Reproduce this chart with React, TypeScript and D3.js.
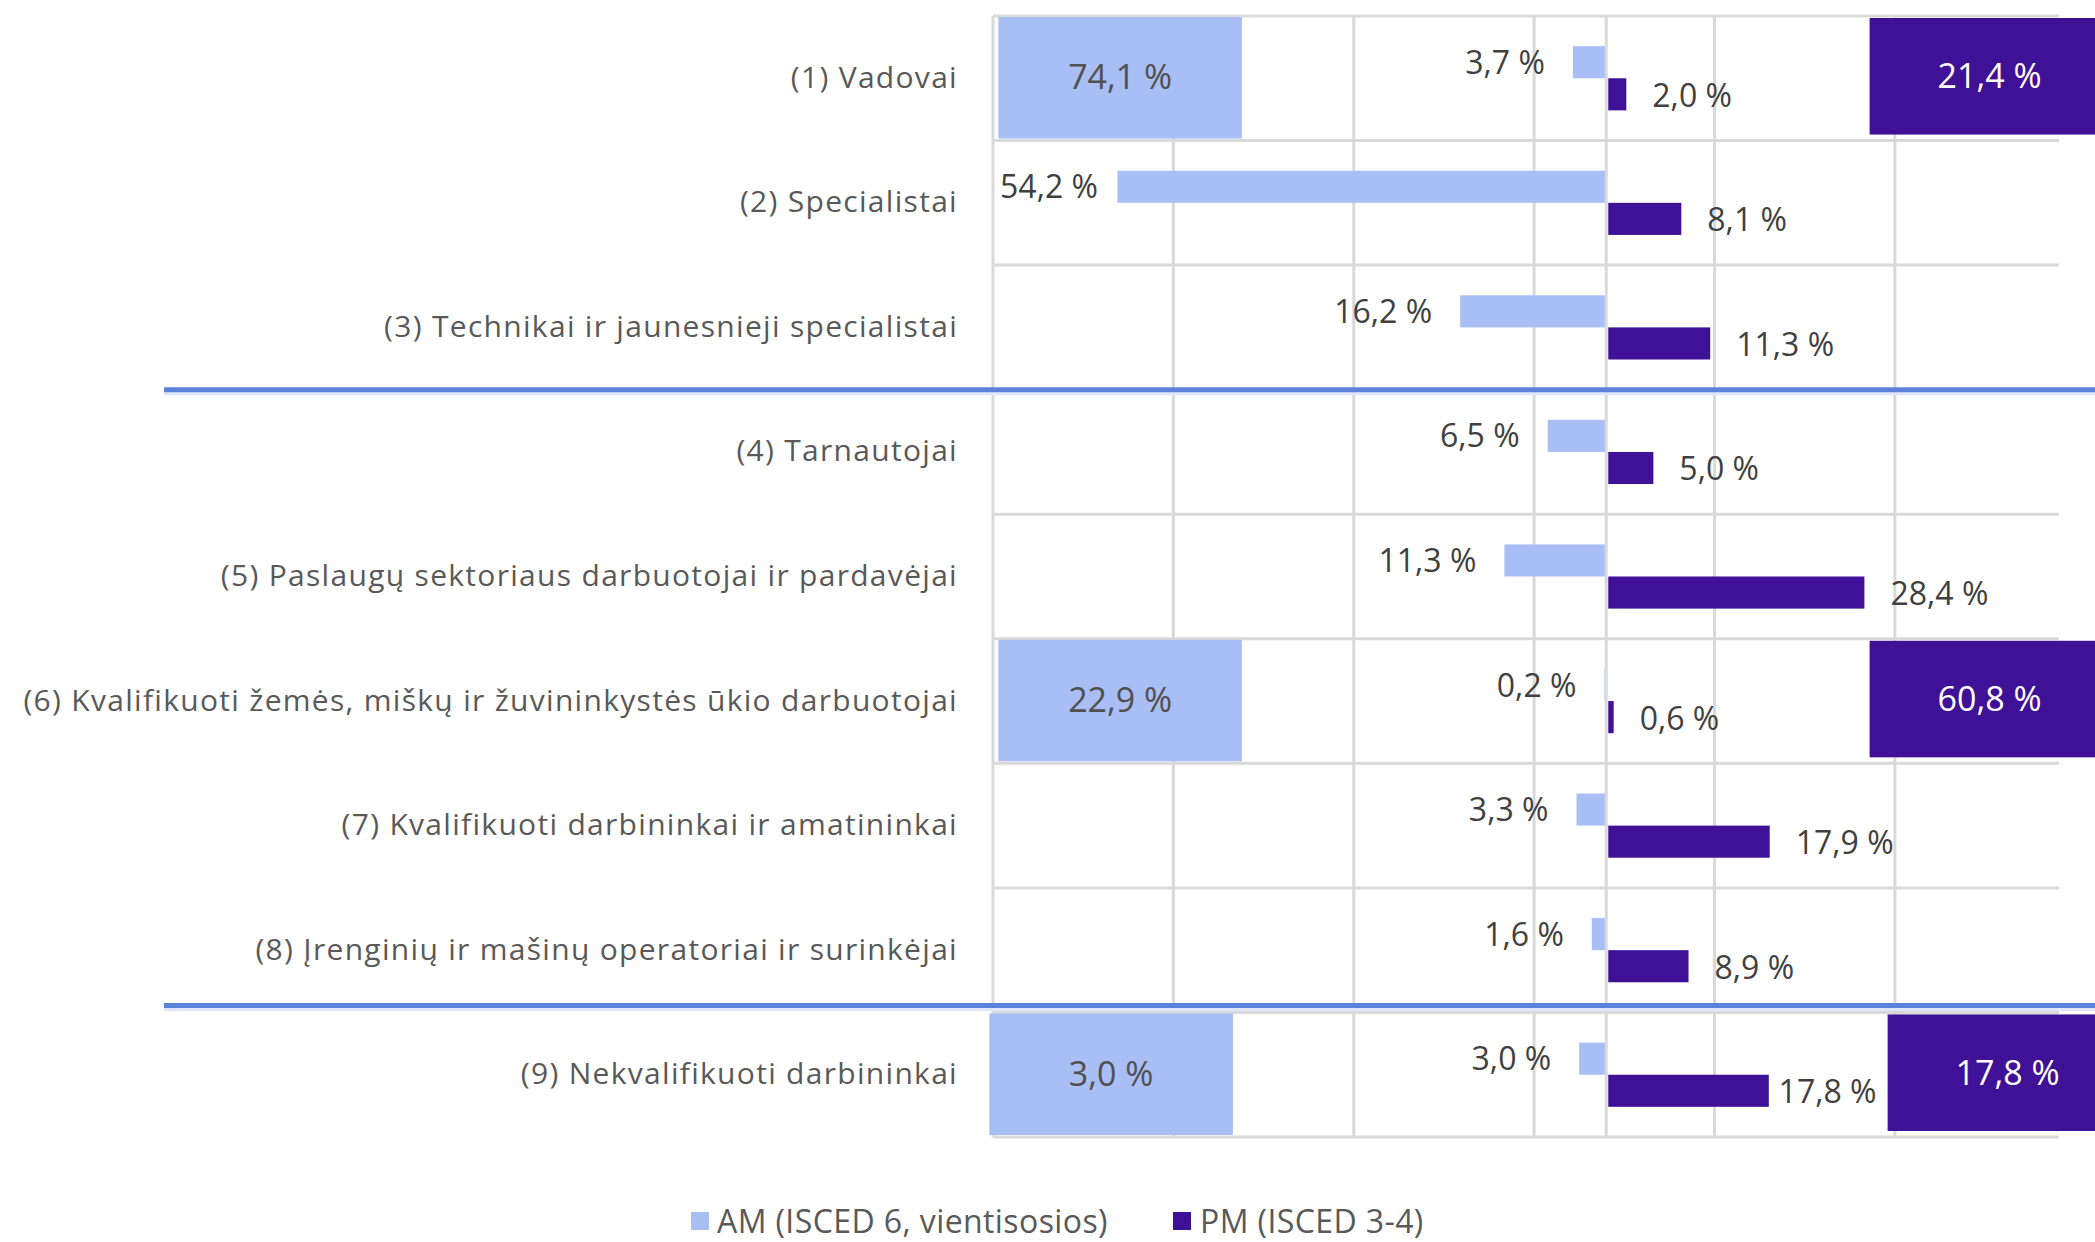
import * as d3 from "d3";

const categories = [
  "(1) Vadovai",
  "(2) Specialistai",
  "(3) Technikai ir jaunesnieji specialistai",
  "(4) Tarnautojai",
  "(5) Paslaugų sektoriaus darbuotojai ir pardavėjai",
  "(6) Kvalifikuoti žemės, miškų ir žuvininkystės ūkio darbuotojai",
  "(7) Kvalifikuoti darbininkai ir amatininkai",
  "(8) Įrenginių ir mašinų operatoriai ir surinkėjai",
  "(9) Nekvalifikuoti darbininkai",
];
const amValues = [3.7, 54.2, 16.2, 6.5, 11.3, 0.2, 3.3, 1.6, 3.0];
const pmValues = [2.0, 8.1, 11.3, 5.0, 28.4, 0.6, 17.9, 8.9, 17.8];
const seriesNames = ["AM (ISCED 6, vientisosios)", "PM (ISCED 3-4)"];
// row groups (first, last) and the row where the group total box sits
const groupStart = [0, 3, 8];
const groupEnd = [2, 7, 8];
const groupBoxRow = [0, 5, 8];
const gridTicks = [-68, -48, -28, -8, 12, 32];

const AM_COLOR = "#a9bef5";
const PM_COLOR = "#3f1196";
const GRID = "#d9d9d9";
const SEP = "#5b82d9";
const TEXT = "#595959";
const FONT = "'Open Sans', sans-serif";

const fmt = (v: number) => d3.format(".1f")(v).replace(".", ",") + " %";

export default function App() {
  const width = 2095;
  const height = 1242;
  const plotTop = 16;
  const plotBottom = 1137;

  const x = d3.scaleLinear().domain([-68, 50.2]).range([993, 2059]);
  const y = d3
    .scaleBand<number>()
    .domain(d3.range(categories.length))
    .range([plotTop, plotBottom]);
  const sub = d3
    .scaleBand<string>()
    .domain(["AM", "PM"])
    .range([0, y.bandwidth()])
    .paddingOuter(0.94);

  const totals = groupStart.map((s, i) => ({
    row: groupBoxRow[i],
    am: d3.sum(amValues.slice(s, groupEnd[i] + 1)),
    pm: d3.sum(pmValues.slice(s, groupEnd[i] + 1)),
  }));

  const amBoxLeft = x(-67.4);
  const amBoxW = x(-40.4) - x(-67.4);
  const pmBoxLeft = x(29.2);
  const pmBoxW = 240;
  const boxShift = [0, 0, 1]; // last group box slightly offset in the original
  const labelW = 100;
  const labelGap = 28;

  return (
    <svg
      width={width}
      height={height}
      style={{ position: "absolute", left: 0, top: 0, background: "#fff" }}
      fontFamily={FONT}
    >
      {/* horizontal gridlines */}
      {d3.range(categories.length + 1).map((i) => {
        const yy = i < categories.length ? y(i)! : plotBottom;
        return (
          <line
            key={"h" + i}
            x1={x(-68)}
            x2={x(50.2)}
            y1={yy}
            y2={yy}
            stroke={GRID}
            strokeWidth={3}
          />
        );
      })}
      {/* vertical gridlines */}
      {gridTicks.map((t) => (
        <line
          key={"v" + t}
          x1={x(t)}
          x2={x(t)}
          y1={plotTop}
          y2={plotBottom}
          stroke={GRID}
          strokeWidth={3}
        />
      ))}

      {/* bars */}
      {categories.map((c, i) => (
        <g key={c}>
          <rect
            x={x(-amValues[i])}
            y={y(i)! + sub("AM")!}
            width={x(0) - x(-amValues[i]) - 1}
            height={sub.bandwidth()}
            fill={AM_COLOR}
          />
          <rect
            x={x(0) + 2}
            y={y(i)! + sub("PM")!}
            width={x(pmValues[i]) - x(0)}
            height={sub.bandwidth()}
            fill={PM_COLOR}
          />
        </g>
      ))}
      <line
        x1={x(0)}
        x2={x(0)}
        y1={plotTop}
        y2={plotBottom}
        stroke={GRID}
        strokeWidth={3}
      />

      {/* group total boxes */}
      {totals.map((t, i) => {
        const top = y(t.row)!;
        const amX = amBoxLeft - (boxShift[i] ? 9 : 0);
        const pmX = pmBoxLeft + (boxShift[i] ? 18 : 0);
        const cy = top + y.bandwidth() / 2;
        return (
          <g key={"box" + i}>
            <rect
              x={amX}
              y={top + 1}
              width={amBoxW}
              height={y.bandwidth() - 3}
              fill={AM_COLOR}
            />
            <text
              x={amX + amBoxW / 2}
              y={cy - 2}
              textAnchor="middle"
              dominantBaseline="central"
              fontSize={34}
              fill="#505050"
            >
              {fmt(t.am)}
            </text>
            <rect
              x={pmX}
              y={top + 2}
              width={pmBoxW}
              height={y.bandwidth() - 8}
              fill={PM_COLOR}
            />
            <text
              x={pmX + pmBoxW / 2}
              y={cy - 3}
              textAnchor="middle"
              dominantBaseline="central"
              fontSize={34}
              fill="#ffffff"
            >
              {fmt(t.pm)}
            </text>
          </g>
        );
      })}

      {/* value labels */}
      {categories.map((c, i) => {
        const amY = y(i)! + sub("AM")! + sub.bandwidth() / 2;
        const pmY = y(i)! + sub("PM")! + sub.bandwidth() / 2;
        let amEnd = x(-amValues[i]) - labelGap;
        if (amEnd - labelW < x(-68) + 5) amEnd = x(-68) + 5 + labelW;
        let pmStart = x(pmValues[i]) + labelGap;
        const boxIdx = groupBoxRow.indexOf(i);
        if (boxIdx >= 0) {
          const limit = pmBoxLeft + (boxShift[boxIdx] ? 18 : 0) - 9;
          if (pmStart + labelW > limit) pmStart = limit - labelW;
        }
        return (
          <g key={"lab" + c} fontSize={32} fill="#404040">
            <text x={amEnd} y={amY - 1} textAnchor="end" dominantBaseline="central">
              {fmt(amValues[i])}
            </text>
            <text x={pmStart} y={pmY} textAnchor="start" dominantBaseline="central">
              {fmt(pmValues[i])}
            </text>
          </g>
        );
      })}

      {/* category labels */}
      {categories.map((c, i) => (
        <text
          key={"cat" + c}
          x={958}
          y={y(i)! + y.bandwidth() / 2 - 2}
          textAnchor="end"
          dominantBaseline="central"
          fontSize={30}
          letterSpacing={1.3}
          fill={TEXT}
        >
          {c}
        </text>
      ))}

      {/* group separators */}
      {[3, 8].map((r, k) => {
        const yy = y(r)! - (k === 0 ? 0 : 7);
        return (
          <g key={"sep" + r}>
            <line x1={164} x2={width} y1={yy + 4} y2={yy + 4} stroke="#dfe6f7" strokeWidth={3} />
            <line x1={164} x2={width} y1={yy} y2={yy} stroke={SEP} strokeWidth={5} />
          </g>
        );
      })}

      {/* legend */}
      <g fontSize={32} fill={TEXT}>
        <rect x={691} y={1212} width={18} height={18} fill={AM_COLOR} />
        <text x={717} y={1220} dominantBaseline="central" letterSpacing={0.4}>
          {seriesNames[0]}
        </text>
        <rect x={1173} y={1212} width={18} height={18} fill={PM_COLOR} />
        <text x={1200} y={1220} dominantBaseline="central" letterSpacing={0.4}>
          {seriesNames[1]}
        </text>
      </g>
    </svg>
  );
}
